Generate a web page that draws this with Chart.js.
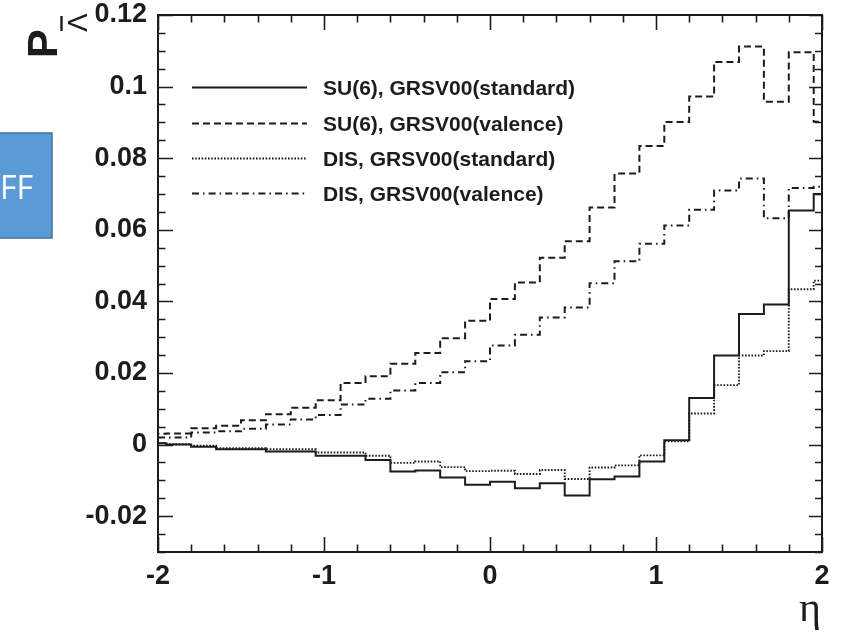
<!DOCTYPE html>
<html>
<head>
<meta charset="utf-8">
<script src="https://cdn.jsdelivr.net/npm/chart.js@4.4.1/dist/chart.umd.min.js"></script>
<style>
  html, body { margin: 0; padding: 0; background: #fff; }
  #wrap { position: relative; width: 851px; height: 633px; }
</style>
</head>
<body>
<div id="wrap"><canvas id="chartPolar" width="851" height="633"></canvas></div>
<script>
// bin edges in eta (28 bins of 0.15, the outer two only partly inside -2..2)
const binEdges = [
  -2.1, -1.95, -1.8, -1.65, -1.5, -1.35, -1.2, -1.05, -0.9, -0.75,
  -0.6, -0.45, -0.3, -0.15, 0, 0.15, 0.3, 0.45, 0.6, 0.75,
  0.9, 1.05, 1.2, 1.35, 1.5, 1.65, 1.8, 1.95, 2.1
];

// one value per bin
const su6Standard = [
  0.0004, 0.0000, -0.0006, -0.0013, -0.0013, -0.0019, -0.0019, -0.0031, -0.0031, -0.0043,
  -0.0075, -0.0072, -0.0092, -0.0112, -0.0104, -0.0122, -0.0108, -0.0142, -0.0097, -0.0089,
  -0.0047, 0.0012, 0.0130, 0.0249, 0.0365, 0.0391, 0.0654, 0.0700
];
const su6Valence = [
  0.0030, 0.0031, 0.0046, 0.0053, 0.0068, 0.0085, 0.0103, 0.0124, 0.0172, 0.0191,
  0.0226, 0.0256, 0.0297, 0.0346, 0.0407, 0.0453, 0.0522, 0.0568, 0.0662, 0.0757,
  0.0834, 0.0901, 0.0972, 0.1069, 0.1112, 0.0958, 0.1096, 0.0902
];
const disStandard = [
  0.0004, 0.0001, -0.0003, -0.0010, -0.0010, -0.0013, -0.0013, -0.0022, -0.0022, -0.0031,
  -0.0051, -0.0047, -0.0063, -0.0074, -0.0073, -0.0082, -0.0071, -0.0096, -0.0064, -0.0058,
  -0.0030, 0.0009, 0.0087, 0.0166, 0.0249, 0.0261, 0.0434, 0.0458
];
const disValence = [
  0.0020, 0.0020, 0.0034, 0.0037, 0.0044, 0.0056, 0.0070, 0.0083, 0.0112, 0.0128,
  0.0151, 0.0172, 0.0202, 0.0233, 0.0277, 0.0307, 0.0355, 0.0383, 0.0451, 0.0512,
  0.0561, 0.0612, 0.0656, 0.0710, 0.0743, 0.0632, 0.0717, 0.0720
];

const seriesLabels = [
  "SU(6), GRSV00(standard)",
  "SU(6), GRSV00(valence)",
  "DIS, GRSV00(standard)",
  "DIS, GRSV00(valence)"
];

const xTickLabels = [-2, -1, 0, 1, 2];
const yTickLabels = [-0.02, 0, 0.02, 0.04, 0.06, 0.08, 0.1, 0.12];

(() => {
  if (typeof Chart === "undefined") return;

  const INK = "#1c1c1c";
  const SANS = "'Liberation Sans', Arial, Helvetica, sans-serif";

  function histogram(values) {
    // one point per left edge, the last edge closes the final bin
    return binEdges.map((x, i) => ({
      x,
      y: values[Math.min(i, values.length - 1)]
    }));
  }

  const styles = [
    { width: 2, dash: [] },
    { width: 2, dash: [7, 4] },
    { width: 1.9, dash: [1.6, 1.6] },
    { width: 2, dash: [7, 4, 1.6, 4] }
  ];

  const allSeries = [su6Standard, su6Valence, disStandard, disValence];

  const datasets = allSeries.map((values, i) => ({
    label: seriesLabels[i],
    data: histogram(values),
    stepped: true,
    fill: false,
    borderColor: INK,
    borderWidth: styles[i].width,
    borderDash: styles[i].dash,
    borderCapStyle: "butt",
    borderJoinStyle: "miter",
    pointRadius: 0,
    tension: 0
  }));

  const frameAndTicksPlugin = {
    id: "frameAndTicks",
    afterDatasetsDraw(chart) {
      const { ctx, chartArea: a, scales } = chart;
      const xs = scales.x;
      const ys = scales.y;
      ctx.save();
      ctx.strokeStyle = INK;
      ctx.lineWidth = 1.6;
      ctx.beginPath();
      for (let i = 0; i <= 20; i++) {
        const v = -2 + i * 0.2;
        const len = i % 5 === 0 ? 15 : 7.5;
        const px = Math.round(xs.getPixelForValue(v)) + 0.5;
        ctx.moveTo(px, a.bottom);
        ctx.lineTo(px, a.bottom - len);
        ctx.moveTo(px, a.top);
        ctx.lineTo(px, a.top + len);
      }
      for (let i = 0; i <= 30; i++) {
        const v = -0.03 + i * 0.005;
        const major = (i - 2) % 4 === 0;
        const py = Math.round(ys.getPixelForValue(v)) + 0.5;
        ctx.moveTo(a.left, py);
        ctx.lineTo(a.left + (major ? 15 : 7.5), py);
        ctx.moveTo(a.right, py);
        ctx.lineTo(a.right - (major ? 13 : 7), py);
      }
      ctx.stroke();
      ctx.lineWidth = 2;
      ctx.strokeRect(a.left, a.top, a.right - a.left, a.bottom - a.top);
      ctx.restore();
    }
  };

  const legendPlugin = {
    id: "insideLegend",
    afterDraw(chart) {
      const { ctx } = chart;
      const rowsY = [87, 123, 158, 193];
      ctx.save();
      chart.data.datasets.forEach((ds, i) => {
        const y = rowsY[i] + 0.5;
        ctx.strokeStyle = INK;
        ctx.lineWidth = ds.borderWidth;
        ctx.setLineDash(ds.borderDash);
        ctx.beginPath();
        ctx.moveTo(192, y);
        ctx.lineTo(307, y);
        ctx.stroke();
        ctx.setLineDash([]);
        ctx.fillStyle = INK;
        ctx.font = "bold 21px " + SANS;
        ctx.textAlign = "left";
        ctx.textBaseline = "alphabetic";
        ctx.fillText(ds.label, 323, rowsY[i] + 8);
      });
      ctx.restore();
    }
  };

  const titlesPlugin = {
    id: "axisTitles",
    afterDraw(chart) {
      const { ctx } = chart;
      ctx.save();
      ctx.fillStyle = INK;
      ctx.textAlign = "left";
      ctx.textBaseline = "alphabetic";

      // y title: P with a Lambda-bar subscript, turned a quarter left
      ctx.save();
      ctx.translate(57, 58);
      ctx.rotate(-Math.PI / 2);
      ctx.font = "bold 43px " + SANS;
      ctx.fillText("P", 0, 0);
      ctx.restore();

      ctx.save();
      ctx.translate(87, 32);
      ctx.rotate(-Math.PI / 2);
      ctx.font = "28px " + SANS;
      ctx.fillText("\u039B", 0, 0);
      ctx.restore();

      ctx.strokeStyle = INK;
      ctx.lineWidth = 2.4;
      ctx.beginPath();
      ctx.moveTo(61.5, 31);
      ctx.lineTo(61.5, 16);
      ctx.stroke();

      // x title
      ctx.font = "42px 'Liberation Serif', 'DejaVu Serif', serif";
      ctx.textAlign = "right";
      ctx.fillText("\u03B7", 821, 621);

      // stray slide box on the left
      ctx.fillStyle = "#5b9bd5";
      ctx.strokeStyle = "#41719c";
      ctx.lineWidth = 1.5;
      ctx.fillRect(-2, 133, 54, 105);
      ctx.strokeRect(-2, 133, 54, 105);
      ctx.fillStyle = "#ffffff";
      ctx.font = "32px 'Open Sans', " + SANS;
      ctx.textAlign = "left";
      ctx.fillText("FF", 0, 199);
      ctx.restore();
    }
  };

  const tickFont = { family: SANS, size: 27, weight: "bold" };

  new Chart(document.getElementById("chartPolar"), {
    type: "line",
    data: { datasets },
    options: {
      responsive: false,
      animation: false,
      devicePixelRatio: 1,
      layout: { padding: { left: 0, top: 15, right: 29, bottom: 0 } },
      plugins: {
        legend: { display: false },
        tooltip: { enabled: false }
      },
      scales: {
        x: {
          type: "linear",
          min: -2,
          max: 2,
          grid: { display: false, drawTicks: false },
          border: { display: false },
          afterBuildTicks(scale) {
            scale.ticks = xTickLabels.map((v) => ({ value: v }));
          },
          afterFit(scale) {
            scale.height = 81;
            scale.paddingLeft = 0;
            scale.paddingRight = 0;
          },
          ticks: {
            font: tickFont,
            color: INK,
            padding: 8,
            maxRotation: 0,
            autoSkip: false,
            callback: (v) => String(v)
          }
        },
        y: {
          type: "linear",
          min: -0.03,
          max: 0.12,
          grid: { display: false, drawTicks: false },
          border: { display: false },
          afterBuildTicks(scale) {
            scale.ticks = yTickLabels.map((v) => ({ value: v }));
          },
          afterFit(scale) {
            scale.width = 158;
            scale.paddingTop = 0;
            scale.paddingBottom = 0;
          },
          ticks: {
            font: tickFont,
            color: INK,
            padding: 11,
            autoSkip: false,
            callback: (v) => String(v)
          }
        }
      }
    },
    plugins: [frameAndTicksPlugin, legendPlugin, titlesPlugin]
  });
})();
</script>
</body>
</html>
